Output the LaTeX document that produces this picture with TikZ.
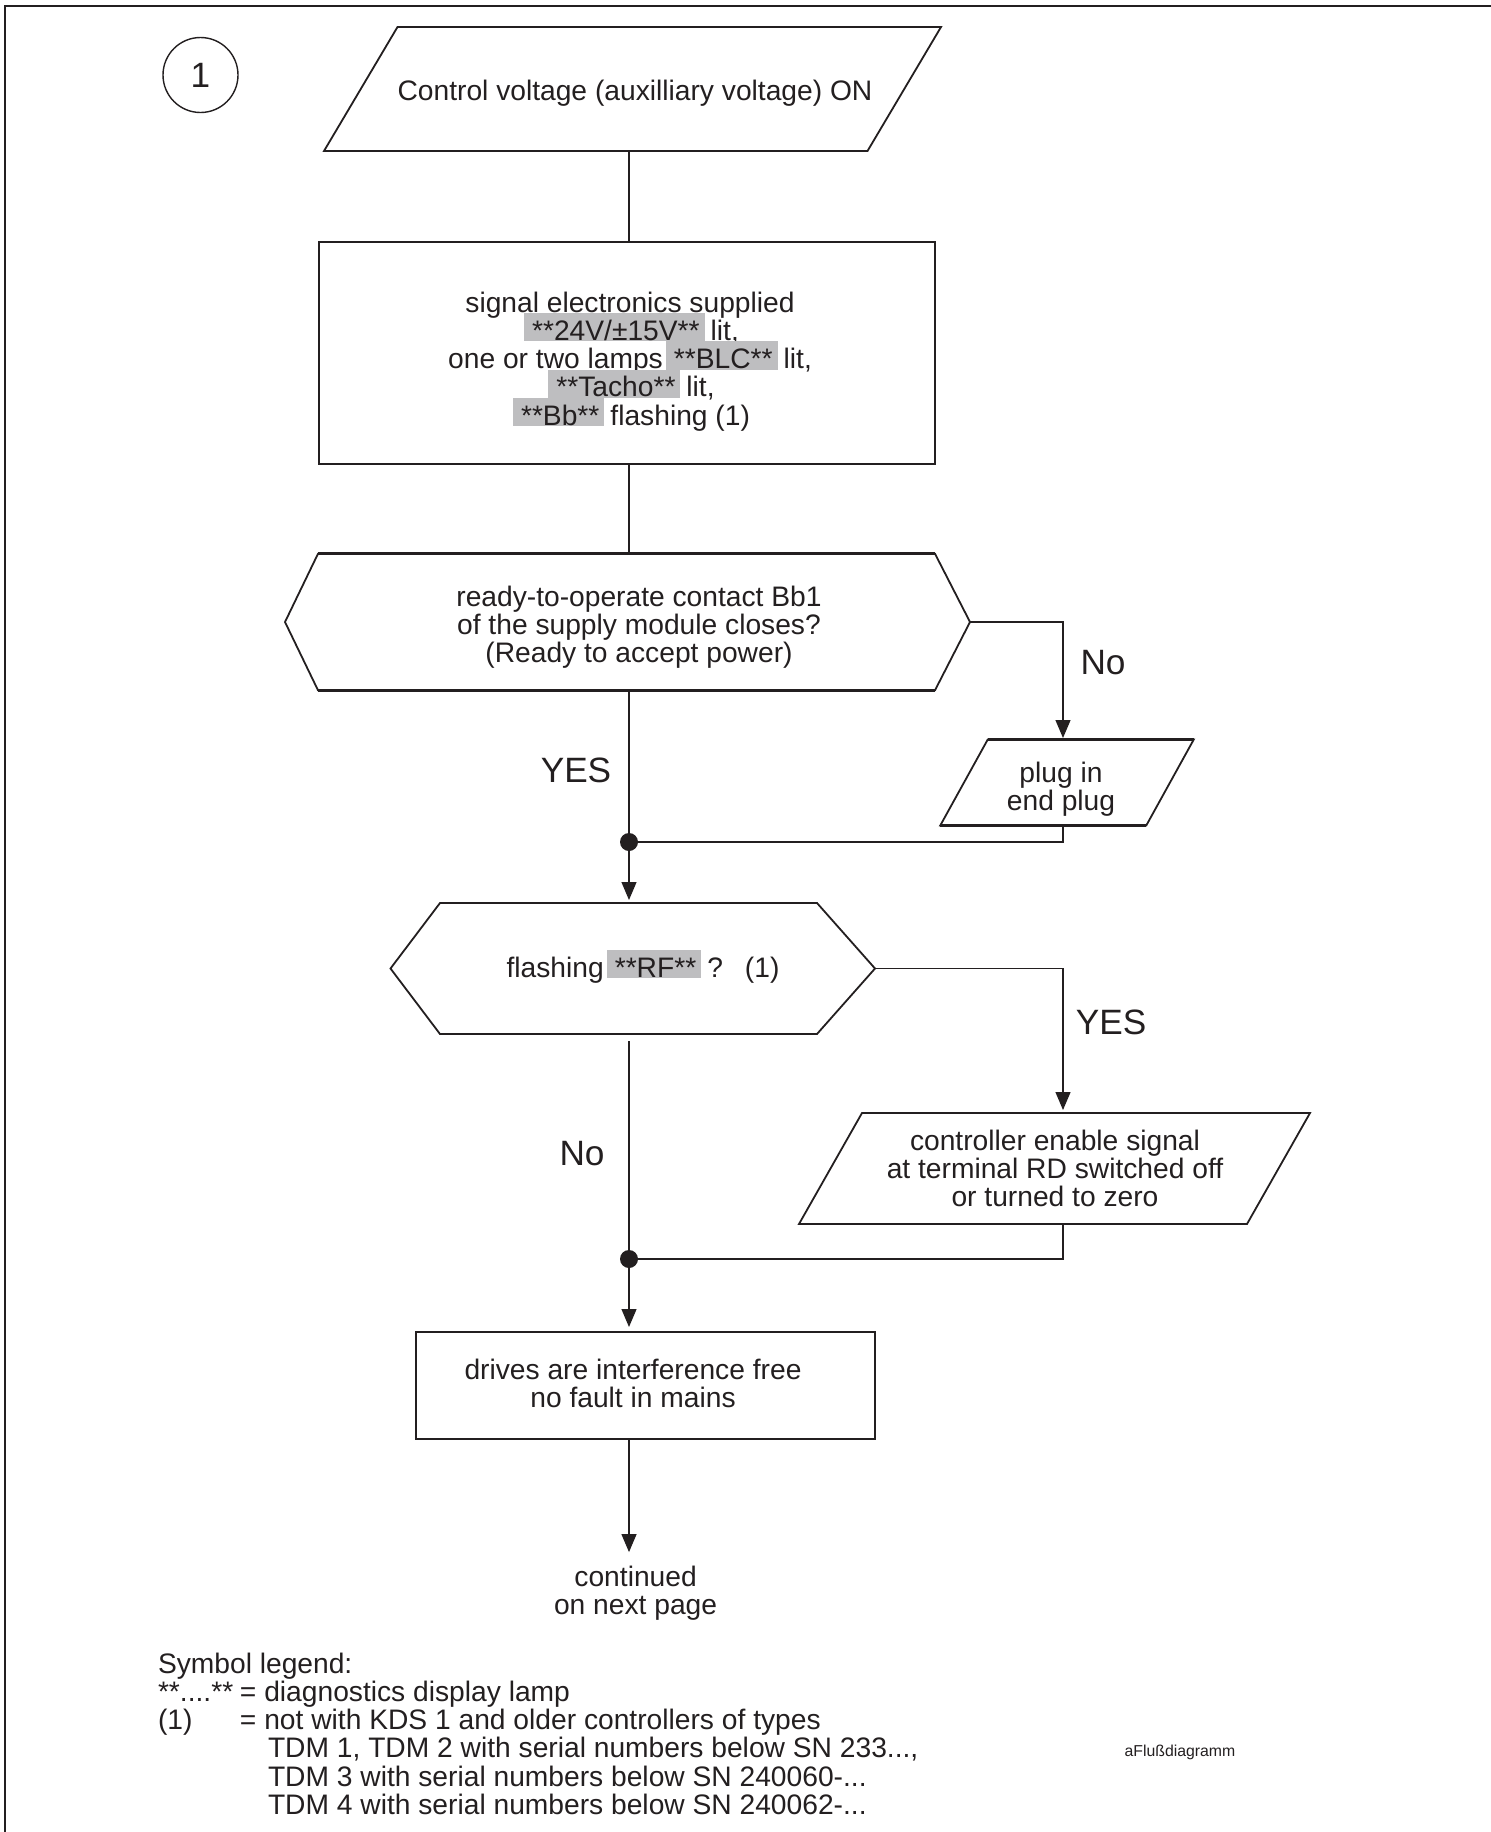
\documentclass[tikz,border=0pt]{standalone}
\usepackage{fontspec}
\setmainfont{Liberation Sans}
\usetikzlibrary{arrows.meta}
\definecolor{ink}{RGB}{35,31,32}
\definecolor{hl}{RGB}{190,190,192}
\newcommand\hlstrut{\vrule height 13.65pt depth 0.5pt width 0pt\relax}
\newcommand\hlb[1]{\hspace{1.5pt}{\setlength{\fboxsep}{0pt}\colorbox{hl}{\hspace{4pt}\hlstrut #1\hspace{2.5pt}}}\hspace{3pt}}
\newcommand\drawpara[2]{%
  \draw[outline] ([xshift=#2]#1.north west) -- (#1.north east) -- ([xshift=-#2]#1.south east) -- (#1.south west) -- cycle;
  \draw[edgeline] ([xshift=#2]#1.north west) -- (#1.north east);
  \draw[edgeline] (#1.south west) -- ([xshift=-#2]#1.south east);}
\newcommand\drawhex[3]{%
  \draw[outline] (#1.west) -- ([xshift=#2]#1.north west) -- ([xshift=-#3]#1.north east) -- (#1.east) -- ([xshift=-#3]#1.south east) -- ([xshift=#2]#1.south west) -- cycle;
  \draw[edgeline] ([xshift=#2]#1.north west) -- ([xshift=-#3]#1.north east);
  \draw[edgeline] ([xshift=#2]#1.south west) -- ([xshift=-#3]#1.south east);}
\begin{document}
\setlength{\lineskiplimit}{-20pt}
\begin{tikzpicture}[x=0.5pt,y=-0.5pt,
  every node/.style={inner sep=0pt,outer sep=0pt,text=ink},
  shapebox/.style={rectangle,draw=none},
  txt/.style={font=\fontsize{14.1pt}{14.15pt}\selectfont,align=center,anchor=north},
  lbl/.style={font=\fontsize{17.6pt}{18pt}\selectfont},
  conn/.style={line width=0.6pt,draw=ink},
  arr/.style={conn,-{Triangle[length=9pt,width=7.5pt]},shorten >=1.5pt},
  outline/.style={line width=0.9pt,draw=ink,line join=miter},
  edgeline/.style={line width=1.4pt,draw=ink},
  dotnode/.style={circle,fill=ink,minimum size=9pt}]
\useasboundingbox (0,0) rectangle (1491,1832);
\draw[line width=1pt,draw=ink] (5,1832) -- (5,6) -- (1491,6);

\coordinate (spine) at (629,0);
\coordinate (rcol) at (1063,0);

% circle marker
\node[circle,draw=ink,line width=0.7pt,minimum size=37.5pt,lbl] (mark) at (200.5,75) {1};

% shapes
\node[shapebox,minimum width=308.5pt,minimum height=62pt] (start) at (632.5,89) {};
\drawpara{start}{36.75pt}
\node[shapebox,draw=ink,line width=1pt,minimum width=308pt,minimum height=111pt] (sig) at (627,353) {};
\node[shapebox,minimum width=342.5pt,minimum height=68.25pt] (hexa) at (627.5,622) {};
\drawhex{hexa}{16.5pt}{17.5pt}
\node[shapebox,minimum width=126.75pt,minimum height=43pt] (plug) at (1067,782.5) {};
\drawpara{plug}{23.75pt}
\node[shapebox,minimum width=242.25pt,minimum height=65.5pt] (hexb) at (632.75,968.5) {};
\drawhex{hexb}{24.75pt}{29pt}
\node[shapebox,minimum width=255.5pt,minimum height=55.5pt] (enable) at (1054.5,1168.5) {};
\drawpara{enable}{31.5pt}
\node[shapebox,minimum width=229.5pt,minimum height=53.5pt] (drives) at (645.5,1385.5) {};
\draw[outline] (drives.north west) rectangle (drives.south east);
\draw[edgeline] (drives.north west) -- (drives.north east);
\draw[edgeline] (drives.south west) -- (drives.south east);

% texts
\node[txt] (tstart) at (635,72.7) {\hlstrut Control voltage (auxilliary voltage) ON};
\node[txt] (tsig) at (630,284.7) {\hlstrut signal electronics supplied\\
  \hlb{**24V/±15V**}lit,\\
  one or two lamps\hlb{**BLC**}lit,\\
  \hlb{**Tacho**}lit,\\
  \hlb{**Bb**}flashing (1)};
\node[txt] (thexa) at (639,578.7) {\hlstrut ready-to-operate contact Bb1\\of the supply module closes?\\(Ready to accept power)};
\node[txt] (tplug) at (1061,754.7) {\hlstrut plug in\\end plug};
\node[txt] (thexb) at (643,949.7) {\hlstrut flashing\hlb{**RF**}?\hspace{11pt}(1)};
\node[txt] (tenable) at (1055,1122.7) {\hlstrut controller enable signal\\at terminal RD switched off\\or turned to zero};
\node[txt] (tdrives) at (633,1352.2) {\hlstrut drives are interference free\\no fault in mains};
\node[txt] (cont) at (635.6,1558.7) {\hlstrut continued\\on next page};

% labels
\node[lbl] (no1) at (1103,662.5) {No};
\node[lbl] (yes1) at (576,770) {YES};
\node[lbl] (yes2) at (1111,1022) {YES};
\node[lbl] (no2) at (582,1154) {No};

% junction dots
\node[dotnode] (dot1) at (629,842) {};
\node[dotnode] (dot2) at (629,1259) {};

% connectors
\draw[conn] (start.south -| spine) -- (sig.north -| spine);
\draw[conn] (sig.south -| spine) -- (hexa.north -| spine);
\draw[conn] (hexa.south -| spine) -- (dot1);
\draw[arr] (dot1) -- (hexb.north -| spine);
\draw[arr,shorten >=0.75pt] (hexa.east) -| (plug.north -| rcol);
\draw[conn] (plug.south -| rcol) |- (dot1);
\draw[conn] ([yshift=-3.5pt]hexb.south -| spine) -- (dot2);
\draw[arr] (hexb.east) -| (enable.north -| rcol);
\draw[conn] (enable.south -| rcol) |- (dot2);
\draw[arr,shorten >=2.5pt] (dot2) -- (drives.north -| spine);
\draw[arr,shorten >=3.3pt] (drives.south -| spine) -- (cont.north -| spine);

% legend
\node[txt,align=left,anchor=north west] (legend) at (158,1645.7) {\hlstrut Symbol legend:\\
  \makebox[41pt][l]{**....**}= diagnostics display lamp\\
  \makebox[41pt][l]{(1)}= not with KDS 1 and older controllers of types\\
  \hspace*{55pt}TDM 1, TDM 2 with serial numbers below SN 233...,\\
  \hspace*{55pt}TDM 3 with serial numbers below SN 240060-...\\
  \hspace*{55pt}TDM 4 with serial numbers below SN 240062-...};
\node[font=\fontsize{7.9pt}{9pt}\selectfont] (figid) at (1180,1752) {aFlußdiagramm};
\end{tikzpicture}
\end{document}
